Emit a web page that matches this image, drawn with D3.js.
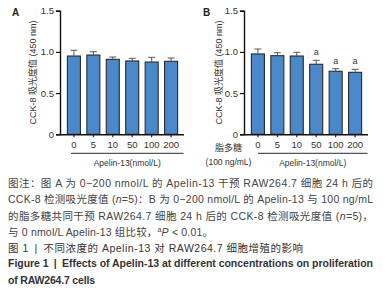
<!DOCTYPE html>
<html>
<head>
<meta charset="utf-8">
<script src="https://cdn.jsdelivr.net/npm/d3@7"></script>
<style>
  body { margin: 0; background: #fff; }
  svg { display: block; }
</style>
</head>
<body>
<div id="chart"></div>
<script>
const width = 390;
const height = 295;

// données
const doses = ["0", "5", "10", "50", "100", "200"];
const meansA = [0.95, 0.962, 0.91, 0.89, 0.877, 0.886];
const sdA = [0.07, 0.04, 0.028, 0.032, 0.057, 0.04];
const meansB = [0.975, 0.954, 0.95, 0.85, 0.765, 0.752];
const sdB = [0.06, 0.036, 0.045, 0.048, 0.031, 0.037];
const sigB = ["", "", "", "a", "a", "a"];
const yTicks = [0, 0.5, 1.0, 1.5];

const captionLines = [
  "图注：图 A 为 0−200 nmol/L 的 Apelin-13 干预 RAW264.7 细胞 24 h 后的",
  "CCK-8 检测吸光度值 (n=5)：B 为 0−200 nmol/L 的 Apelin-13 与 100 ng/mL",
  "的脂多糖共同干预 RAW264.7 细胞 24 h 后的 CCK-8 检测吸光度值 (n=5)，",
  "与 0 nmol/L Apelin-13 组比较，aP < 0.01。"
];

const svg = d3.select("#chart")
    .append("svg")
    .attr("width", width)
    .attr("height", height)
    .attr("viewBox", `0 0 ${width} ${height}`);

const latin = "'Liberation Sans', 'Noto Sans CJK SC', sans-serif";

const y = d3.scaleLinear().domain([0, 1.5]).range([134.3, 10.7]);

function panel(opts) {
    const g = svg.append("g");
    const x = d3.scaleBand()
        .domain(doses)
        .range([opts.x0 + 3.5, opts.x0 + 121.5])
        .paddingInner(0.33)
        .paddingOuter(0.2);

    // barres
    g.selectAll("rect.bar")
        .data(opts.means)
        .join("rect")
        .attr("x", (d, i) => x(doses[i]))
        .attr("y", d => y(d))
        .attr("width", x.bandwidth())
        .attr("height", d => y(0) - y(d))
        .attr("fill", "#4a88c9")
        .attr("stroke", "#2a2a2a")
        .attr("stroke-width", 1.1);

    // barres d'erreur
    const err = g.selectAll("g.err")
        .data(opts.means)
        .join("g")
        .attr("stroke", "#555")
        .attr("stroke-width", 1);
    err.append("line")
        .attr("x1", (d, i) => x(doses[i]) + x.bandwidth() / 2)
        .attr("x2", (d, i) => x(doses[i]) + x.bandwidth() / 2)
        .attr("y1", d => y(d))
        .attr("y2", (d, i) => y(d + opts.sd[i]));
    err.append("line")
        .attr("x1", (d, i) => x(doses[i]) + x.bandwidth() / 2 - 3.5)
        .attr("x2", (d, i) => x(doses[i]) + x.bandwidth() / 2 + 3.5)
        .attr("y1", (d, i) => y(d + opts.sd[i]))
        .attr("y2", (d, i) => y(d + opts.sd[i]));

    if (opts.sig) {
        g.selectAll("text.sig")
            .data(opts.means)
            .join("text")
            .attr("x", (d, i) => x(doses[i]) + x.bandwidth() / 2)
            .attr("y", (d, i) => y(d + opts.sd[i]) - 5)
            .attr("text-anchor", "middle")
            .attr("font-family", latin)
            .attr("font-size", 9)
            .attr("fill", "#333")
            .text((d, i) => opts.sig[i]);
    }

    // axe y
    const ya = g.append("g")
        .attr("transform", `translate(${opts.x0},0)`)
        .call(d3.axisLeft(y).tickValues(yTicks).tickFormat(d => d === 0 ? "0" : d3.format(".1f")(d)).tickSize(4).tickPadding(2));
    ya.select(".domain").attr("stroke", "#111").attr("stroke-width", 1.4);
    ya.selectAll(".tick line").attr("stroke", "#111").attr("stroke-width", 1.2);
    ya.selectAll("text").attr("font-family", latin).attr("font-size", 9.5).attr("fill", "#333");

    // axe x
    const xa = g.append("g")
        .attr("transform", `translate(0,${y(0)})`)
        .call(d3.axisBottom(x).tickSize(3).tickPadding(4).tickSizeOuter(0));
    xa.select(".domain").attr("d", `M${opts.x0},0.5H${opts.x0 + 124}`).attr("stroke", "#111").attr("stroke-width", 1.4);
    xa.selectAll(".tick line").attr("stroke", "#111").attr("stroke-width", 1.1);
    xa.selectAll("text").attr("font-family", latin).attr("font-size", 9.5).attr("fill", "#333");

    // trait + libellé sous l'axe
    g.append("line")
        .attr("x1", opts.lineX0).attr("x2", opts.x0 + 123.5)
        .attr("y1", 153.3).attr("y2", 153.3)
        .attr("stroke", "#555").attr("stroke-width", 1.2);
    g.append("text")
        .attr("x", (opts.lineX0 + opts.x0 + 123.5) / 2)
        .attr("y", 166)
        .attr("text-anchor", "middle")
        .attr("font-family", latin)
        .attr("font-size", 8.5)
        .attr("fill", "#333")
        .text("Apelin-13(nmol/L)");

    // titre axe y
    g.append("text")
        .attr("transform", `translate(${opts.titleX},72.5) rotate(-90)`)
        .attr("text-anchor", "middle")
        .attr("font-family", latin)
        .attr("font-size", 9)
        .attr("fill", "#333")
        .text("CCK-8 吸光度值 (450 nm)");

    // lettre du panneau
    g.append("text")
        .attr("x", opts.letterX)
        .attr("y", 16)
        .attr("font-family", latin)
        .attr("font-size", 10)
        .attr("font-weight", "bold")
        .attr("fill", "#222")
        .text(opts.letter);
    return g;
}

panel({ x0: 60, means: meansA, sd: sdA, lineX0: 71, titleX: 35.5, letterX: 12, letter: "A" });
const gB = panel({ x0: 244, means: meansB, sd: sdB, sig: sigB, lineX0: 258, titleX: 222, letterX: 203, letter: "B" });

gB.append("text")
    .attr("x", 228.5).attr("y", 150.5)
    .attr("text-anchor", "middle")
    .attr("font-family", latin).attr("font-size", 9).attr("fill", "#333")
    .text("脂多糖");
gB.append("text")
    .attr("x", 228.5).attr("y", 165)
    .attr("text-anchor", "middle")
    .attr("font-family", latin).attr("font-size", 8.5).attr("fill", "#333")
    .text("(100 ng/mL)");

// légende de la figure
const cap = svg.append("g")
    .attr("font-family", "'Liberation Sans', 'Noto Sans CJK SC', sans-serif")
    .attr("fill", "#444");
const capY = [187, 203, 219.5, 235.5];
const capW = [365, 365, 365, 205];
captionLines.forEach((line, i) => {
    const t = cap.append("text")
        .attr("x", 8).attr("y", capY[i])
        .attr("font-size", 10.5);
    // mettre n et P en italique
    const parts = line.split(/(\(n=5\)|aP)/);
    parts.forEach(p => {
        if (p === "(n=5)") {
            t.append("tspan").text("(");
            t.append("tspan").attr("font-style", "italic").text("n");
            t.append("tspan").text("=5)");
        } else if (p === "aP") {
            t.append("tspan").attr("font-size", 7).attr("dy", -4).text("a");
            t.append("tspan").attr("font-style", "italic").attr("dy", 4).text("P");
        } else if (p) {
            t.append("tspan").text(p);
        }
    });
    if (capW[i]) t.attr("textLength", capW[i]).attr("lengthAdjust", "spacing");
});

cap.append("text")
    .attr("x", 8).attr("y", 251.5)
    .attr("font-size", 10.5)
    .attr("fill", "#333")
    .attr("textLength", 295).attr("lengthAdjust", "spacing")
    .text("图 1\u2002|\u2002不同浓度的 Apelin-13 对 RAW264.7 细胞增殖的影响");

cap.append("text")
    .attr("x", 8).attr("y", 267)
    .attr("font-size", 10.5)
    .attr("font-weight", "bold")
    .attr("fill", "#333")
    .attr("textLength", 365).attr("lengthAdjust", "spacing")
    .text("Figure 1\u2002|\u2002Effects of Apelin-13 at different concentrations on proliferation");
cap.append("text")
    .attr("x", 8).attr("y", 284)
    .attr("font-size", 10.5)
    .attr("font-weight", "bold")
    .attr("fill", "#333")
    .attr("textLength", 87).attr("lengthAdjust", "spacing")
    .text("of RAW264.7 cells");
</script>
</body>
</html>
